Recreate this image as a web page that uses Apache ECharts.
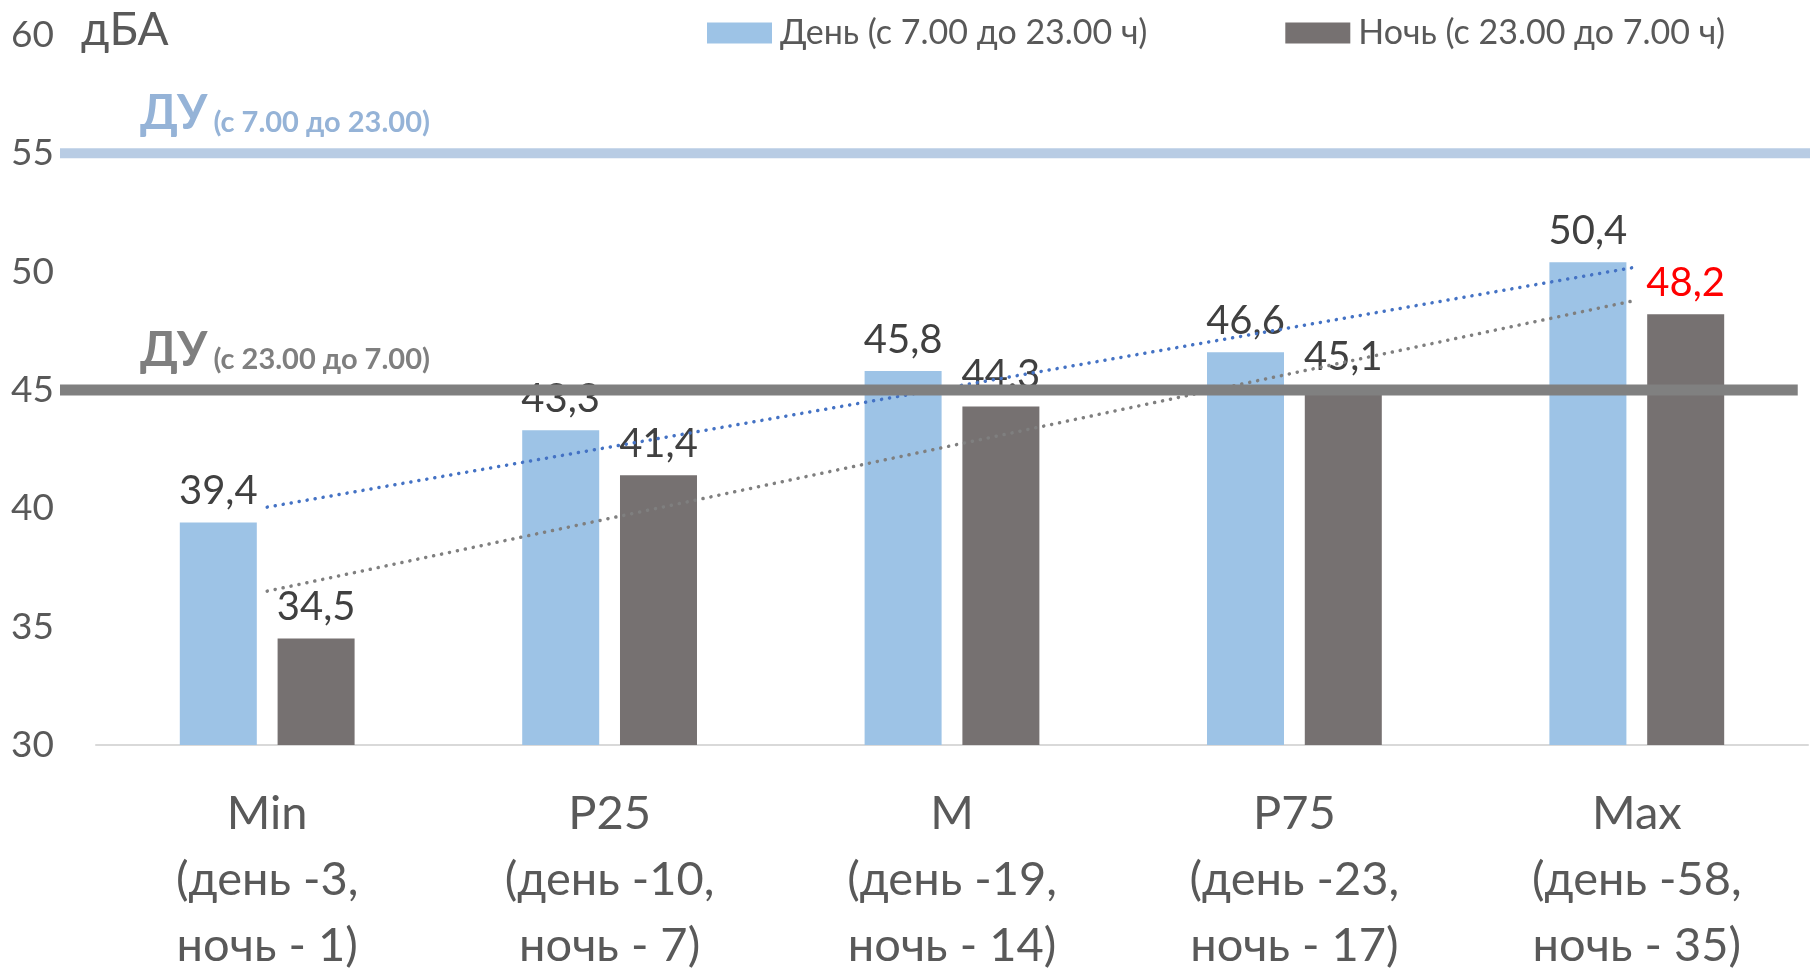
<!DOCTYPE html>
<html>
<head>
<meta charset="utf-8">
<script src="https://cdn.jsdelivr.net/npm/echarts@6/dist/echarts.min.js"></script>
<style>
  html, body { margin: 0; padding: 0; background: #fff; }
  #chart { width: 1810px; height: 968px; }
</style>
</head>
<body>
<div id="chart"></div>
<script>
const categories = [
    'Min\n(день -3,\nночь - 1)',
    'P25\n(день -10,\nночь - 7)',
    'M\n(день -19,\nночь - 14)',
    'P75\n(день -23,\nночь - 17)',
    'Max\n(день -58,\nночь - 35)'
];
const dayValues = [39.4, 43.3, 45.8, 46.6, 50.4];
const nightValues = [34.5, 41.4, 44.3, 45.1, 48.2];
// линии тренда (концы)
const dayTrend = [40.05, null, null, null, 50.2];
const nightTrend = [36.5, null, null, null, 48.8];
// допустимые уровни
const duDay = 55;
const duNight = 45;
const yTicks = { min: 30, max: 60, step: 5 };

const FONT = 'Lato';
const redIndex = 4;

window.onload = init;

function init() {
    let chart = echarts.init(document.getElementById('chart'));

    let nightData = nightValues.map((v, i) => i === redIndex
        ? { value: v, label: { color: '#ff0000' } }
        : v);

    let fmt = p => String(p.value).replace('.', ',');

    let options = {
        animation: false,
        textStyle: { fontFamily: FONT },
        title: {
            text: 'дБА',
            left: 76,
            top: 2,
            textStyle: { fontFamily: FONT, fontSize: 46, fontWeight: 'normal', color: '#595959' }
        },
        legend: {
            data: ['День (с 7.00 до 23.00 ч)', 'Ночь (с 23.00 до 7.00 ч)'],
            left: 702,
            top: 11,
            icon: 'rect',
            itemWidth: 65,
            itemHeight: 21,
            itemGap: 138,
            textStyle: { fontFamily: FONT, fontSize: 34, color: '#595959', padding: [0, 0, 0, 3] }
        },
        grid: [
            { left: 96, right: 2, top: 35, bottom: 223, outerBoundsMode: 'none' },
            { left: 60, right: 0, top: 35, bottom: 223, outerBoundsMode: 'none' }
        ],
        xAxis: [
            {
                type: 'category',
                data: categories,
                gridIndex: 0,
                axisTick: { show: false },
                axisLine: { lineStyle: { color: '#d9d9d9', width: 2 } },
                axisLabel: {
                    fontFamily: FONT, fontSize: 47, lineHeight: 66,
                    color: '#595959', margin: 36
                }
            },
            { type: 'value', gridIndex: 1, min: 0, max: 100, show: false }
        ],
        yAxis: [
            {
                type: 'value',
                gridIndex: 0,
                min: yTicks.min, max: yTicks.max, interval: yTicks.step,
                axisLine: { show: false },
                axisTick: { show: false },
                splitLine: { show: false },
                axisLabel: { fontFamily: FONT, fontSize: 37, color: '#595959', margin: 42 }
            },
            { type: 'value', gridIndex: 1, min: yTicks.min, max: yTicks.max, show: false }
        ],
        series: [
            {
                name: 'День (с 7.00 до 23.00 ч)',
                type: 'bar',
                data: dayValues,
                barWidth: 77,
                barGap: '27%',
                itemStyle: { color: '#9dc3e6' },
                z: 2,
                label: {
                    show: true, position: 'top', distance: 11, formatter: fmt,
                    fontFamily: FONT, fontSize: 40, color: '#404040'
                }
            },
            {
                name: 'Ночь (с 23.00 до 7.00 ч)',
                type: 'bar',
                data: nightData,
                barWidth: 77,
                itemStyle: { color: '#767171' },
                z: 2,
                label: {
                    show: true, position: 'top', distance: 11, formatter: fmt,
                    fontFamily: FONT, fontSize: 40, color: '#404040'
                }
            },
            {
                type: 'line',
                data: dayTrend,
                connectNulls: true,
                symbol: 'none',
                z: 4,
                lineStyle: { color: '#4472c4', width: 3.5, type: [0.1, 8], cap: 'round' }
            },
            {
                type: 'line',
                data: nightTrend,
                connectNulls: true,
                symbol: 'none',
                z: 4,
                lineStyle: { color: '#7f7f7f', width: 3.5, type: [0.1, 8], cap: 'round' }
            },
            {
                type: 'line',
                xAxisIndex: 1, yAxisIndex: 1,
                data: [[0, duDay], [100, duDay]],
                symbol: 'circle', symbolSize: 0,
                z: 6,
                lineStyle: { color: '#b8cce4', width: 10 },
                label: {
                    show: true,
                    position: [80, -64],
                    formatter: p => p.dataIndex === 0 ? '{a|ДУ}  {b|(с 7.00 до 23.00)}' : '',
                    rich: {
                        a: { fontFamily: FONT, fontSize: 47, fontWeight: 'bold', color: '#95b3d7', verticalAlign: 'bottom', lineHeight: 48 },
                        b: { fontFamily: FONT, fontSize: 29, fontWeight: 'bold', color: '#95b3d7', verticalAlign: 'bottom', lineHeight: 48 }
                    }
                }
            },
            {
                type: 'line',
                xAxisIndex: 1, yAxisIndex: 1,
                data: [[0, duNight], [99.3, duNight]],
                symbol: 'circle', symbolSize: 0,
                z: 6,
                lineStyle: { color: '#808080', width: 11 },
                label: {
                    show: true,
                    position: [80, -64],
                    formatter: p => p.dataIndex === 0 ? '{a|ДУ}  {b|(с 23.00 до 7.00)}' : '',
                    rich: {
                        a: { fontFamily: FONT, fontSize: 47, fontWeight: 'bold', color: '#7f7f7f', verticalAlign: 'bottom', lineHeight: 48 },
                        b: { fontFamily: FONT, fontSize: 29, fontWeight: 'bold', color: '#7f7f7f', verticalAlign: 'bottom', lineHeight: 48 }
                    }
                }
            }
        ]
    };

    chart.setOption(options);
}
</script>
</body>
</html>
